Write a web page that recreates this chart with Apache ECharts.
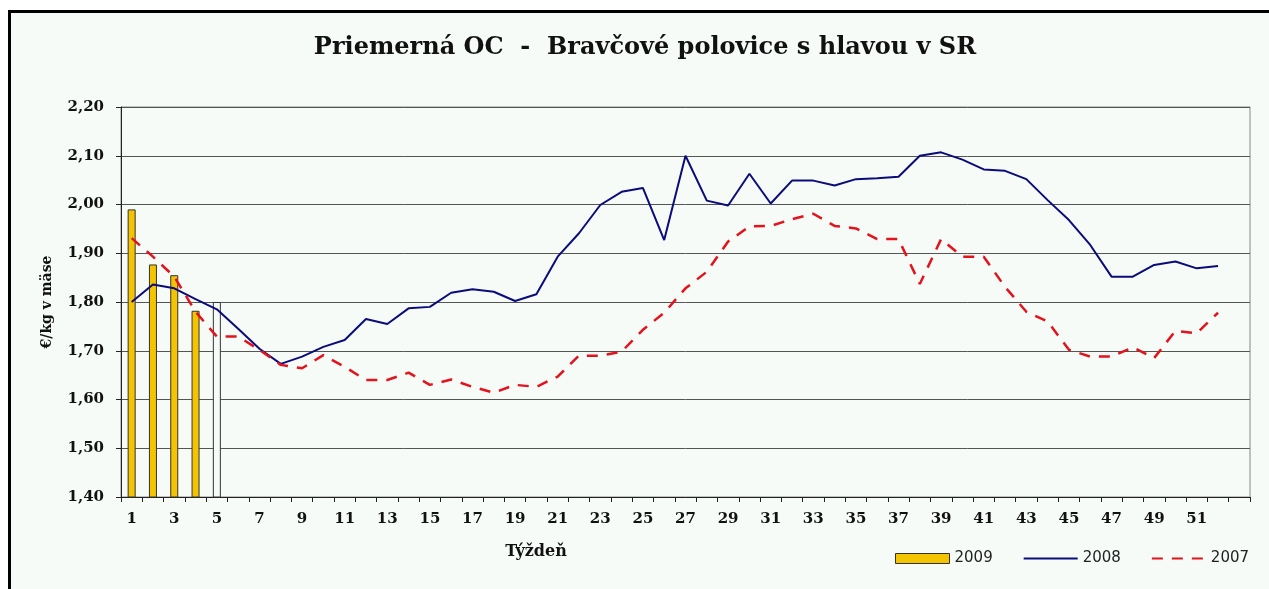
<!DOCTYPE html>
<html>
<head>
<meta charset="utf-8">
<script src="https://cdn.jsdelivr.net/npm/echarts@6/dist/echarts.min.js"></script>
<style>
html,body{margin:0;padding:0;background:#ffffff;}
#c{width:1269px;height:589px;}
</style>
</head>
<body>
<div id="c"></div>
<script>
// Categories (weeks); the 53rd slot is present on the axis but unlabeled
var weeks = ['1','2','3','4','5','6','7','8','9','10','11','12','13','14','15','16','17','18','19','20',
  '21','22','23','24','25','26','27','28','29','30','31','32','33','34','35','36','37','38','39','40',
  '41','42','43','44','45','46','47','48','49','50','51','52','53'];

var price2009 = [1.990, 1.877, 1.855, 1.782, 1.800];

var price2008 = [1.800, 1.836, 1.828, 1.806, 1.785, 1.745, 1.704, 1.673, 1.688, 1.708,
  1.722, 1.765, 1.755, 1.787, 1.790, 1.819, 1.826, 1.821, 1.802, 1.816,
  1.893, 1.941, 1.999, 2.026, 2.034, 1.927, 2.100, 2.008, 1.998, 2.063,
  2.002, 2.049, 2.049, 2.039, 2.052, 2.054, 2.057, 2.100, 2.107, 2.092,
  2.072, 2.069, 2.052, 2.009, 1.968, 1.917, 1.852, 1.852, 1.876, 1.883,
  1.869, 1.874];

var price2007 = [1.931, 1.893, 1.852, 1.780, 1.729, 1.729, 1.702, 1.671, 1.664, 1.691,
  1.667, 1.640, 1.640, 1.655, 1.630, 1.641, 1.626, 1.614, 1.630, 1.626,
  1.647, 1.690, 1.690, 1.698, 1.743, 1.778, 1.828, 1.862, 1.924, 1.955,
  1.956, 1.970, 1.981, 1.956, 1.951, 1.929, 1.929, 1.837, 1.929, 1.893,
  1.893, 1.831, 1.780, 1.760, 1.702, 1.688, 1.688, 1.707, 1.685, 1.741,
  1.736, 1.778];

var bg = '#f6fbf8';
var serif = '"DejaVu Serif",serif';
var sans = '"DejaVu Sans",sans-serif';

var barData = price2009.map(function (v, i) {
  if (i === price2009.length - 1) {
    return { value: v, itemStyle: { color: bg, borderColor: '#333', borderWidth: 1 } };
  }
  return v;
});

var chart = echarts.init(document.getElementById('c'), null, { renderer: 'canvas' });
chart.setOption({
  backgroundColor: '#ffffff',
  animation: false,
  graphic: [
    { type: 'rect', z: -10, silent: true,
      shape: { x: 9.5, y: 11.5, width: 1300, height: 700 },
      style: { fill: bg, stroke: '#000', lineWidth: 3 } },
    { type: 'text', x: 645, y: 48, silent: true,
      style: { text: 'Priemerná OC  -  Bravčové polovice s hlavou v SR', font: 'bold 24px ' + serif, fill: '#111', textAlign: 'center', textVerticalAlign: 'middle' } },
    { type: 'text', x: 536, y: 552, silent: true,
      style: { text: 'Týždeň', font: 'bold 16px ' + serif, fill: '#111', textAlign: 'center', textVerticalAlign: 'middle' } }
  ],
  grid: { left: 121, right: 19, top: 107, bottom: 92, show: true, borderColor: '#888', borderWidth: 1, backgroundColor: 'transparent' },
  legend: {
    left: 890, top: 546,
    itemWidth: 54, itemHeight: 10, itemGap: 30,
    textStyle: { fontFamily: sans, fontSize: 15, color: '#222' },
    data: [
      { name: '2009', icon: 'rect', itemStyle: { color: '#f5c400', borderColor: '#333', borderWidth: 1 } },
      { name: '2008', itemStyle: { opacity: 0 } },
      { name: '2007', itemStyle: { opacity: 0 } }
    ]
  },
  xAxis: {
    type: 'category',
    data: weeks,
    boundaryGap: true,
    axisLine: { lineStyle: { color: '#222', width: 1 } },
    axisTick: { show: true, interval: 0, length: 5, lineStyle: { color: '#222' } },
    axisLabel: {
      interval: 1, margin: 15, color: '#111',
      fontFamily: serif, fontWeight: 'bold', fontSize: 15,
      formatter: function (v) { return v === '53' ? '' : v; }
    },
    splitLine: { show: false }
  },
  yAxis: {
    type: 'value',
    min: 1.4, max: 2.2, interval: 0.1,
    name: '€/kg v mäse',
    nameLocation: 'middle',
    nameGap: 67,
    nameRotate: 90,
    nameTextStyle: { fontFamily: serif, fontWeight: 'bold', fontSize: 14, color: '#111' },
    axisLine: { show: true, lineStyle: { color: '#222', width: 1 } },
    axisTick: { show: true, length: 5, lineStyle: { color: '#222' } },
    axisLabel: {
      color: '#111', fontFamily: serif, fontWeight: 'bold', fontSize: 15, margin: 17,
      formatter: function (v) { return v.toFixed(2).replace('.', ','); }
    },
    splitLine: { show: true, lineStyle: { color: '#555', width: 1 } }
  },
  series: [
    { name: '2009', type: 'bar', data: barData, barWidth: 8,
      itemStyle: { color: '#f5c400', borderColor: '#333', borderWidth: 1 } },
    { name: '2008', type: 'line', data: price2008, symbol: 'none',
      lineStyle: { color: '#0b0b7a', width: 2 }, itemStyle: { color: '#0b0b7a' } },
    { name: '2007', type: 'line', data: price2007, symbol: 'none',
      lineStyle: { color: '#e3121b', width: 2.5, type: [11, 9] }, itemStyle: { color: '#e3121b' } }
  ]
});
</script>
</body>
</html>
